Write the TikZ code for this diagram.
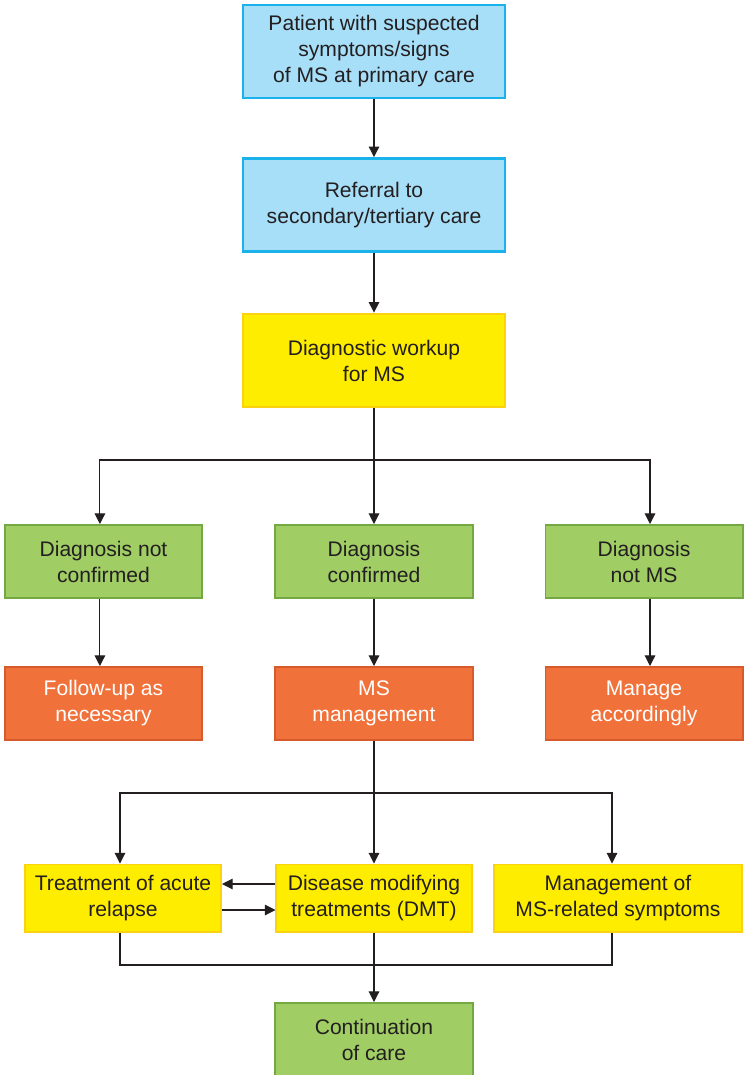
\documentclass[tikz,border=0pt]{standalone}
\usepackage{fontspec}
\setmainfont{Liberation Sans}
\usepackage{xcolor}
\usetikzlibrary{arrows.meta}
\definecolor{textgray}{HTML}{231F20}
\definecolor{bluefill}{HTML}{A7DEF8}
\definecolor{blueline}{HTML}{1BB1EA}
\definecolor{yellowfill}{HTML}{FFED00}
\definecolor{yellowline}{HTML}{FBD20F}
\definecolor{greenfill}{HTML}{A0CD64}
\definecolor{greenline}{HTML}{74A842}
\definecolor{orangefill}{HTML}{F1713A}
\definecolor{orangeline}{HTML}{D65A2B}

\begin{document}
\begin{tikzpicture}[x=0.025cm,y=-0.025cm,->,>={Triangle[length=7.5pt,width=7.5pt]},draw=textgray,line width=0.75pt]
    \tikzstyle{box}=[rectangle,align=center,text=textgray,line width=1.4pt,font=\fontsize{15}{18.5}\selectfont]
    \tikzstyle{blue box}=[box,fill=bluefill,draw=blueline,line width=2pt,minimum width=6.55cm,minimum height=2.325cm]
    \tikzstyle{work box}=[blue box,fill=yellowfill,draw=yellowline]
    \tikzstyle{green box}=[box,fill=greenfill,draw=greenline,minimum width=4.925cm,minimum height=1.825cm]
    \tikzstyle{orange box}=[green box,fill=orangefill,draw=orangeline,text=white]
    \tikzstyle{care box}=[box,fill=yellowfill,draw=yellowline,minimum height=1.675cm]

    \useasboundingbox (0,0) rectangle (747,1075);

    % Draw the referral path
    \node[blue box] (P) at (374,51.5) {Patient with suspected\\symptoms/signs\\of MS at primary care};
    \node[blue box] (R) at (374,205) {Referral to\\secondary/tertiary care};
    \node[work box] (W) at (374,360.5) {Diagnostic workup\\for MS};

    % Draw the diagnosis and outcome nodes
    \foreach \name/\x/\txt in {1/103.5/{Diagnosis not\\confirmed},2/374/{Diagnosis\\confirmed},3/644/{Diagnosis\\not MS}}
        \node[green box] (D-\name) at (\x,561.5) {\txt};
    \foreach \name/\x/\txt in {1/103.5/{Follow-up as\\necessary},2/374/{MS\\management},3/644/{Manage\\accordingly}}
        \node[orange box] (M-\name) at (\x,703.5) {\txt};

    % Draw the management nodes
    \node[care box,minimum width=4.9cm] (T-1) at (123,898) {Treatment of acute\\relapse};
    \node[care box,minimum width=4.875cm] (T-2) at (374,898) {Disease modifying\\treatments (DMT)};
    \node[care box,minimum width=6.2cm] (T-3) at (618,898) {Management of\\MS-related symptoms};
    \node[green box] (C) at (374,1039.5) {Continuation\\of care};

    \coordinate (split) at (374,460);
    \coordinate (mgmt) at (374,793);
    \coordinate (merge) at (374,965);

    \path (P) edge (R);
    \path (R) edge (W);

    % Connect the workup with every diagnosis
    \draw[-] (W) -- (split);
    \draw (split) -| ([xshift=-0.09cm]D-1.north);
    \draw (split) -| ([xshift=0.15cm]D-3.north);
    \draw (W) -- (D-2);
    \foreach \y/\s in {1/-0.09cm,2/0cm,3/0.15cm}
        \draw ([xshift=\s]D-\y.south) -- ([xshift=\s]M-\y.north);

    % Connect MS management with the treatments
    \draw[-] (M-2) -- (mgmt);
    \draw (mgmt) -| ([xshift=-0.075cm]T-1.north);
    \draw (mgmt) -| ([xshift=-0.15cm]T-3.north);
    \draw (M-2) -- (T-2);
    \draw ([yshift=0.35cm]T-2.west) -- ([yshift=0.35cm]T-1.east);
    \draw ([yshift=-0.3cm]T-1.east) -- ([yshift=-0.3cm]T-2.west);

    \draw[-] ([xshift=-0.075cm]T-1.south) |- (merge) -| ([xshift=-0.15cm]T-3.south);
    \draw (T-2) -- (C);

\end{tikzpicture}
\end{document}
